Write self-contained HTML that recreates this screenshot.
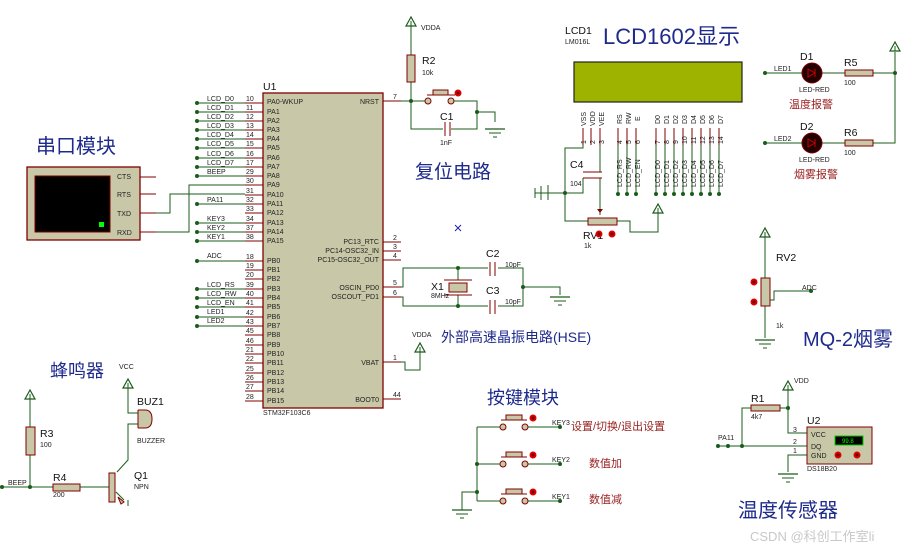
<!DOCTYPE html>
<html><head><meta charset="utf-8"><style>
body{margin:0;background:#fff;width:915px;height:550px;overflow:hidden}
svg{display:block}
text{font-family:"Liberation Sans","Noto Sans CJK SC",sans-serif}
.s{font-size:7px;fill:#222}
.b{font-size:10.5px;fill:#111}
.t{fill:#1e2a8c;font-family:"Liberation Sans","Noto Sans CJK SC",sans-serif}
.r{fill:#9a2222;font-size:11px}
</style></head><body>
<svg width="915" height="550" viewBox="0 0 915 550" xmlns="http://www.w3.org/2000/svg">
<defs>
<g id="gnd"><line x1="-10" y1="0" x2="10" y2="0" stroke="#1a5c1a" stroke-width="1.2"/><line x1="-6" y1="4" x2="6" y2="4" stroke="#1a5c1a"/><line x1="-2" y1="8" x2="2" y2="8" stroke="#1a5c1a"/></g>
<g id="arr"><polygon points="0,0 -5,9 5,9" fill="none" stroke="#1a5c1a" stroke-width="1.2"/><line x1="0" y1="9" x2="0" y2="4" stroke="#1a5c1a"/></g>
<g id="rd"><circle r="3.5" fill="#e00000"/><circle r="1.5" fill="#600"/></g>
</defs>
<rect x="263" y="93" width="120" height="315" fill="#c8c8a8" stroke="#800000" stroke-width="1.3"/>
<g stroke="#800000" stroke-width="1">
<path d="M245 103H263M245 112H263M245 121H263M245 130H263M245 139H263M245 148H263M245 158H263M245 167H263M245 176H263M245 185H263M245 195H263M245 204H263M245 213H263M245 223H263M245 232H263M245 241H263"/>
<path d="M245 261H263M245 270H263M245 279H263M245 289H263M245 298H263M245 307H263M245 317H263M245 326H263M245 335H263M245 345H263M245 354H263M245 363H263M245 373H263M245 382H263M245 391H263M245 401H263"/>
<path d="M383 101H401M383 242H401M383 251H401M383 260H401M383 287H401M383 297H401M383 362H401M383 399H401"/>
</g>
<g stroke="#1a5c1a" stroke-width="1" fill="none">
<path d="M197 103H245M197 112H245M197 121H245M197 130H245M197 139H245M197 148H245M197 158H245M197 167H245M197 176H245M197 204H245M197 223H245M197 232H245M197 241H245M197 261H245M197 289H245M197 298H245M197 307H245M197 317H245M197 326H245"/>
<path d="M156 232H189V185H245M156 213H170V194H245"/>
</g>
<g fill="#1a5c1a">
<circle cx="197" cy="103" r="2"/><circle cx="197" cy="112" r="2"/><circle cx="197" cy="121" r="2"/><circle cx="197" cy="130" r="2"/><circle cx="197" cy="139" r="2"/><circle cx="197" cy="148" r="2"/><circle cx="197" cy="158" r="2"/><circle cx="197" cy="167" r="2"/><circle cx="197" cy="176" r="2"/><circle cx="197" cy="204" r="2"/><circle cx="197" cy="223" r="2"/><circle cx="197" cy="232" r="2"/><circle cx="197" cy="241" r="2"/><circle cx="197" cy="261" r="2"/><circle cx="197" cy="289" r="2"/><circle cx="197" cy="298" r="2"/><circle cx="197" cy="307" r="2"/><circle cx="197" cy="317" r="2"/><circle cx="197" cy="326" r="2"/>
</g>
<g class="s">
<text x="207" y="101">LCD_D0</text><text x="207" y="110">LCD_D1</text><text x="207" y="119">LCD_D2</text><text x="207" y="128">LCD_D3</text><text x="207" y="137">LCD_D4</text><text x="207" y="146">LCD_D5</text><text x="207" y="156">LCD_D6</text><text x="207" y="165">LCD_D7</text><text x="207" y="174">BEEP</text><text x="207" y="202">PA11</text><text x="207" y="221">KEY3</text><text x="207" y="230">KEY2</text><text x="207" y="239">KEY1</text><text x="207" y="258">ADC</text><text x="207" y="287">LCD_RS</text><text x="207" y="296">LCD_RW</text><text x="207" y="305">LCD_EN</text><text x="207" y="314">LED1</text><text x="207" y="323">LED2</text>
<text x="246" y="101">10</text><text x="246" y="110">11</text><text x="246" y="119">12</text><text x="246" y="128">13</text><text x="246" y="137">14</text><text x="246" y="146">15</text><text x="246" y="156">16</text><text x="246" y="165">17</text><text x="246" y="174">29</text><text x="246" y="183">30</text><text x="246" y="193">31</text><text x="246" y="202">32</text><text x="246" y="211">33</text><text x="246" y="221">34</text><text x="246" y="230">37</text><text x="246" y="239">38</text>
<text x="246" y="259">18</text><text x="246" y="268">19</text><text x="246" y="277">20</text><text x="246" y="287">39</text><text x="246" y="296">40</text><text x="246" y="305">41</text><text x="246" y="315">42</text><text x="246" y="324">43</text><text x="246" y="333">45</text><text x="246" y="343">46</text><text x="246" y="352">21</text><text x="246" y="361">22</text><text x="246" y="371">25</text><text x="246" y="380">26</text><text x="246" y="389">27</text><text x="246" y="399">28</text>
<text x="267" y="104">PA0-WKUP</text><text x="267" y="114">PA1</text><text x="267" y="123">PA2</text><text x="267" y="132">PA3</text><text x="267" y="141">PA4</text><text x="267" y="150">PA5</text><text x="267" y="160">PA6</text><text x="267" y="169">PA7</text><text x="267" y="178">PA8</text><text x="267" y="187">PA9</text><text x="267" y="197">PA10</text><text x="267" y="206">PA11</text><text x="267" y="215">PA12</text><text x="267" y="225">PA13</text><text x="267" y="234">PA14</text><text x="267" y="243">PA15</text>
<text x="267" y="263">PB0</text><text x="267" y="272">PB1</text><text x="267" y="281">PB2</text><text x="267" y="291">PB3</text><text x="267" y="300">PB4</text><text x="267" y="309">PB5</text><text x="267" y="319">PB6</text><text x="267" y="328">PB7</text><text x="267" y="337">PB8</text><text x="267" y="347">PB9</text><text x="267" y="356">PB10</text><text x="267" y="365">PB11</text><text x="267" y="375">PB12</text><text x="267" y="384">PB13</text><text x="267" y="393">PB14</text><text x="267" y="403">PB15</text>
<text x="379" y="104" text-anchor="end">NRST</text><text x="379" y="244" text-anchor="end">PC13_RTC</text><text x="379" y="253" text-anchor="end">PC14-OSC32_IN</text><text x="379" y="262" text-anchor="end">PC15-OSC32_OUT</text><text x="379" y="290" text-anchor="end">OSCIN_PD0</text><text x="379" y="299" text-anchor="end">OSCOUT_PD1</text><text x="379" y="365" text-anchor="end">VBAT</text><text x="379" y="402" text-anchor="end">BOOT0</text>
<text x="393" y="99">7</text><text x="393" y="240">2</text><text x="393" y="249">3</text><text x="393" y="258">4</text><text x="393" y="285">5</text><text x="393" y="295">6</text><text x="393" y="360">1</text><text x="393" y="397">44</text>
<text x="263" y="415">STM32F103C6</text>
</g>
<text x="263" y="90" class="b">U1</text>

<text x="36" y="153" class="t" font-size="20">串口模块</text>
<rect x="27" y="167" width="113" height="73" fill="#c8c8a8" stroke="#800000" stroke-width="1.3"/>
<rect x="35" y="176" width="75" height="56" fill="#000" stroke="#800000"/>
<rect x="99" y="222" width="5" height="5" fill="#0f0"/>
<path d="M140 177H156M140 194H156M140 213H156M140 232H156" stroke="#800000"/>
<g class="s" font-size="7.5"><text x="117" y="179">CTS</text><text x="117" y="197">RTS</text><text x="117" y="216">TXD</text><text x="117" y="235">RXD</text></g>

<use href="#arr" x="411" y="17"/>
<text x="421" y="30" class="s">VDDA</text>
<path d="M411 26V55M411 82V129H477V112M401 101H428M451 101H477V112H495V122" stroke="#1a5c1a" fill="none"/>
<rect x="407" y="55" width="8" height="27" fill="#c8c8a8" stroke="#800000"/>
<text x="422" y="64" class="b">R2</text><text x="422" y="75" class="s">10k</text>
<circle cx="428" cy="101" r="3" fill="#c8c8a8" stroke="#800000"/><circle cx="451" cy="101" r="3" fill="#c8c8a8" stroke="#800000"/>
<path d="M427 95H455" stroke="#800000"/><rect x="433" y="90" width="15" height="5" fill="#c8c8a8" stroke="#800000"/>
<use href="#rd" x="458" y="93"/>
<circle cx="411" cy="101" r="2" fill="#1a5c1a"/><circle cx="477" cy="112" r="2" fill="#1a5c1a"/>
<rect x="443" y="122" width="8" height="14" fill="#fff"/>
<path d="M445 122V136M450 122V136" stroke="#800000"/>
<text x="440" y="120" class="b">C1</text><text x="440" y="145" class="s">1nF</text>
<use href="#gnd" x="495" y="129"/>
<text x="415" y="178" class="t" font-size="19">复位电路</text>

<text x="565" y="34" class="b">LCD1</text><text x="565" y="44" class="s" font-size="6">LM016L</text>
<text x="603" y="44" class="t" font-size="22">LCD1602显示</text>
<rect x="574" y="62" width="168" height="40" fill="#9db300" stroke="#222" stroke-width="1.2"/>
<g stroke="#800000"><path d="M583 128V145M591 128V145M600 128V145M618 128V145M627 128V145M636 128V145M656 128V145M665 128V145M674 128V145M683 128V145M692 128V145M701 128V145M710 128V145M719 128V145"/></g>
<g stroke="#1a5c1a" fill="none"><path d="M618 145V194M627 145V194M636 145V194M656 145V194M665 145V194M674 145V194M683 145V194M692 145V194M701 145V194M710 145V194M719 145V194"/>
<path d="M583 145V148H565V221H588M535 193H583V178M600 145V172M600 178V215M617 221H630V232H658V213M548 185V200"/></g>
<path d="M583 172H602M583 178H602" stroke="#800000"/>
<rect x="588" y="218" width="29" height="7" fill="#c8c8a8" stroke="#800000"/>
<polygon points="600,213 597,209 603,209" fill="#800000"/>
<use href="#arr" x="658" y="204"/>
<g fill="#1a5c1a"><circle cx="565" cy="193" r="2"/><circle cx="618" cy="194" r="2"/><circle cx="627" cy="194" r="2"/><circle cx="636" cy="194" r="2"/><circle cx="656" cy="194" r="2"/><circle cx="665" cy="194" r="2"/><circle cx="674" cy="194" r="2"/><circle cx="683" cy="194" r="2"/><circle cx="692" cy="194" r="2"/><circle cx="701" cy="194" r="2"/><circle cx="710" cy="194" r="2"/><circle cx="719" cy="194" r="2"/></g>
<path d="M535 188V198M541 186V200" stroke="#1a5c1a"/>
<g class="s" font-size="6.5">
<text transform="translate(586,126) rotate(-90)">VSS</text><text transform="translate(595,126) rotate(-90)">VDD</text><text transform="translate(604,126) rotate(-90)">VEE</text><text transform="translate(622,124) rotate(-90)">RS</text><text transform="translate(631,124) rotate(-90)">RW</text><text transform="translate(640,121) rotate(-90)">E</text>
<text transform="translate(660,124) rotate(-90)">D0</text><text transform="translate(669,124) rotate(-90)">D1</text><text transform="translate(678,124) rotate(-90)">D2</text><text transform="translate(687,124) rotate(-90)">D3</text><text transform="translate(696,124) rotate(-90)">D4</text><text transform="translate(705,124) rotate(-90)">D5</text><text transform="translate(714,124) rotate(-90)">D6</text><text transform="translate(723,124) rotate(-90)">D7</text>
<text transform="translate(586,144) rotate(-90)">1</text><text transform="translate(595,144) rotate(-90)">2</text><text transform="translate(604,144) rotate(-90)">3</text><text transform="translate(622,144) rotate(-90)">4</text><text transform="translate(631,144) rotate(-90)">5</text><text transform="translate(640,144) rotate(-90)">6</text><text transform="translate(660,144) rotate(-90)">7</text><text transform="translate(669,144) rotate(-90)">8</text><text transform="translate(678,144) rotate(-90)">9</text><text transform="translate(687,144) rotate(-90)">10</text><text transform="translate(696,144) rotate(-90)">11</text><text transform="translate(705,144) rotate(-90)">12</text><text transform="translate(714,144) rotate(-90)">13</text><text transform="translate(723,144) rotate(-90)">14</text>
<text transform="translate(622,187) rotate(-90)">LCD_RS</text><text transform="translate(631,187) rotate(-90)">LCD_RW</text><text transform="translate(640,187) rotate(-90)">LCD_EN</text>
<text transform="translate(660,187) rotate(-90)">LCD_D0</text><text transform="translate(669,187) rotate(-90)">LCD_D1</text><text transform="translate(678,187) rotate(-90)">LCD_D2</text><text transform="translate(687,187) rotate(-90)">LCD_D3</text><text transform="translate(696,187) rotate(-90)">LCD_D4</text><text transform="translate(705,187) rotate(-90)">LCD_D5</text><text transform="translate(714,187) rotate(-90)">LCD_D6</text><text transform="translate(723,187) rotate(-90)">LCD_D7</text>
</g>
<text x="570" y="168" class="b">C4</text><text x="570" y="186" class="s">104</text>
<text x="583" y="239" class="b">RV1</text><text x="584" y="248" class="s">1k</text>
<use href="#rd" x="599" y="234"/><use href="#rd" x="612" y="234"/>

<path d="M401 287H403V268H492M401 297H403V306H492M497 268H523V306H497M523 287H560V295M458 268V280M458 295V306" stroke="#1a5c1a" fill="none"/>
<rect x="488" y="262" width="10" height="14" fill="#fff"/><rect x="488" y="300" width="10" height="14" fill="#fff"/>
<path d="M490 262V276M495 262V276M490 300V314M495 300V314" stroke="#800000"/>
<path d="M444 280H472M444 295H472" stroke="#800000"/>
<rect x="449" y="283" width="18" height="9" fill="#c8c8a8" stroke="#800000"/>
<g fill="#1a5c1a"><circle cx="458" cy="268" r="2"/><circle cx="458" cy="306" r="2"/><circle cx="523" cy="287" r="2"/></g>
<use href="#gnd" x="560" y="297"/>
<text x="431" y="290" class="b">X1</text><text x="431" y="298" class="s">8MHz</text>
<text x="486" y="257" class="b">C2</text><text x="486" y="294" class="b">C3</text>
<text x="505" y="267" class="s">10pF</text><text x="505" y="304" class="s">10pF</text>
<text x="412" y="337" class="s">VDDA</text>
<use href="#arr" x="420" y="343"/>
<path d="M401 362H405V370H420V352" stroke="#1a5c1a" fill="none"/>
<text x="441" y="342" class="t" font-size="14">外部高速晶振电路(HSE)</text>
<path d="M455 225l6 6M461 225l-6 6" stroke="#22a"/>

<path d="M765 73H802M822 73H845M873 73H895V52M765 143H802M822 143H845M873 143H895V73" stroke="#1a5c1a" fill="none"/>
<use href="#arr" x="895" y="42"/>
<g fill="#1a5c1a"><circle cx="765" cy="73" r="2"/><circle cx="765" cy="143" r="2"/><circle cx="895" cy="73" r="2"/></g>
<circle cx="812" cy="73" r="10" fill="#200" stroke="#800000"/><circle cx="812" cy="143" r="10" fill="#200" stroke="#800000"/>
<path d="M808 69L815 73 808 77Z M815 69V77M808 139L815 143 808 147Z M815 139V147" stroke="#c00" fill="none"/>
<rect x="845" y="70" width="28" height="6" fill="#c8c8a8" stroke="#800000"/><rect x="845" y="140" width="28" height="6" fill="#c8c8a8" stroke="#800000"/>
<text x="800" y="60" class="b" font-size="12">D1</text><text x="800" y="130" class="b" font-size="12">D2</text>
<text x="844" y="66" class="b">R5</text><text x="844" y="136" class="b">R6</text>
<g class="s"><text x="774" y="71">LED1</text><text x="774" y="141">LED2</text><text x="799" y="92">LED-RED</text><text x="799" y="162">LED-RED</text><text x="844" y="85">100</text><text x="844" y="155">100</text></g>
<text x="789" y="108" class="r">温度报警</text><text x="794" y="178" class="r">烟雾报警</text>

<use href="#arr" x="765" y="228"/>
<path d="M765 237V278M765 306V338M769 300H774V291H811" stroke="#1a5c1a" fill="none"/>
<rect x="761" y="278" width="9" height="28" fill="#c8c8a8" stroke="#800000"/>
<use href="#gnd" x="765" y="340"/>
<use href="#rd" x="754" y="282"/><use href="#rd" x="754" y="302"/>
<circle cx="811" cy="291" r="2" fill="#1a5c1a"/>
<text x="776" y="261" class="b">RV2</text><text x="802" y="290" class="s">ADC</text><text x="776" y="328" class="s">1k</text>
<text x="803" y="346" class="t" font-size="20">MQ-2烟雾</text>

<use href="#arr" x="788" y="381"/>
<text x="794" y="383" class="s">VDD</text>
<path d="M788 390V433H807M742 446V408H751M780 408H788M718 446H807M807 455H788V472" stroke="#1a5c1a" fill="none"/>
<rect x="751" y="405" width="29" height="6" fill="#c8c8a8" stroke="#800000"/>
<g fill="#1a5c1a"><circle cx="788" cy="408" r="2"/><circle cx="718" cy="446" r="2"/><circle cx="728" cy="446" r="2"/><circle cx="742" cy="446" r="2"/></g>
<rect x="807" y="427" width="65" height="37" fill="#c8c8a8" stroke="#800000"/>
<rect x="835" y="436" width="28" height="9" fill="#000" stroke="#0c0"/>
<text x="842" y="443" font-size="6" fill="#0f0">99.8</text>
<use href="#rd" x="838" y="455"/><use href="#rd" x="857" y="455"/>
<g class="s"><text x="811" y="437">VCC</text><text x="811" y="449">DQ</text><text x="811" y="458">GND</text><text x="793" y="432">3</text><text x="793" y="444">2</text><text x="793" y="453">1</text><text x="718" y="440">PA11</text><text x="751" y="419">4k7</text><text x="807" y="471">DS18B20</text></g>
<text x="751" y="402" class="b" font-size="11">R1</text><text x="807" y="424" class="b" font-size="11">U2</text>
<use href="#gnd" x="788" y="474"/>
<text x="738" y="517" class="t" font-size="20">温度传感器</text>

<text x="50" y="377" class="t" font-size="18">蜂鸣器</text>
<text x="119" y="369" class="s">VCC</text>
<use href="#arr" x="128" y="379"/>
<use href="#arr" x="30" y="390"/>
<path d="M128 388V413H138M138 424H128V460L117 472M30 399V427M30 455V487M2 487H53M80 487H109M116 492L124 500M128 500V506" stroke="#1a5c1a" fill="none"/>
<path d="M138 410V428M138 410H145Q152 410 152 419Q152 428 145 428H138" fill="#c8c8a8" stroke="#800000"/>
<rect x="26" y="427" width="9" height="28" fill="#c8c8a8" stroke="#800000"/>
<rect x="53" y="484" width="27" height="7" fill="#c8c8a8" stroke="#800000"/>
<rect x="109" y="473" width="6" height="29" fill="#c8c8a8" stroke="#800000"/>
<path d="M118 497l6 5-3 2z" fill="#c8c8a8" stroke="#800000"/>
<g fill="#1a5c1a"><circle cx="2" cy="487" r="2"/><circle cx="30" cy="487" r="2"/></g>
<g class="b"><text x="137" y="405">BUZ1</text><text x="40" y="437">R3</text><text x="53" y="481">R4</text><text x="134" y="479">Q1</text></g>
<g class="s"><text x="137" y="443">BUZZER</text><text x="40" y="447">100</text><text x="53" y="497">200</text><text x="134" y="489">NPN</text><text x="8" y="485">BEEP</text></g>

<text x="487" y="404" class="t" font-size="18">按键模块</text>
<path d="M477 427H500M528 427H560M477 464H500M528 464H560M477 501H500M528 501H560M477 427V501M462 510V492H477" stroke="#1a5c1a" fill="none"/>
<g fill="#1a5c1a"><circle cx="477" cy="464" r="2"/><circle cx="477" cy="492" r="2"/><circle cx="560" cy="427" r="2"/><circle cx="560" cy="464" r="2"/><circle cx="560" cy="501" r="2"/></g>
<g fill="#c8c8a8" stroke="#800000">
<circle cx="503" cy="427" r="3"/><circle cx="525" cy="427" r="3"/><rect x="506" y="415" width="16" height="5"/><path d="M501 420H527"/>
<circle cx="503" cy="464" r="3"/><circle cx="525" cy="464" r="3"/><rect x="506" y="452" width="16" height="5"/><path d="M501 457H527"/>
<circle cx="503" cy="501" r="3"/><circle cx="525" cy="501" r="3"/><rect x="506" y="489" width="16" height="5"/><path d="M501 494H527"/>
</g>
<use href="#rd" x="533" y="418"/><use href="#rd" x="533" y="455"/><use href="#rd" x="533" y="492"/>
<use href="#gnd" x="462" y="510"/>
<g class="s"><text x="552" y="425">KEY3</text><text x="552" y="462">KEY2</text><text x="552" y="499">KEY1</text></g>
<text x="571" y="430" class="r">设置/切换/退出设置</text>
<text x="589" y="467" class="r">数值加</text><text x="589" y="503" class="r">数值减</text>

<text x="750" y="541" font-size="13" fill="#c8c8c8">CSDN @科创工作室li</text>
</svg>
</body></html>
